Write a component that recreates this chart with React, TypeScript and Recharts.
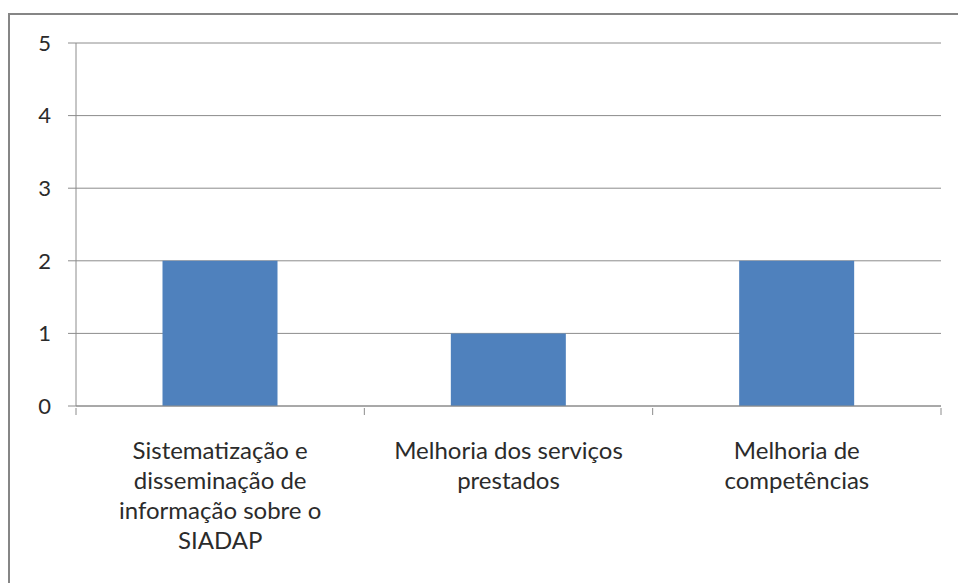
import { BarChart, Bar, XAxis, YAxis, CartesianGrid } from 'recharts';

const categories = [
  'Sistematização e\ndisseminação de\ninformação sobre o\nSIADAP',
  'Melhoria dos serviços\nprestados',
  'Melhoria de\ncompetências',
];
const values = [2, 1, 2];
const yTicks = [0, 1, 2, 3, 4, 5];

const data = categories.map((name, i) => ({ name, value: values[i] }));

const FONT = 'Lato, "Open Sans", sans-serif';
const GRID = '#8c8c8c';
const TEXT = '#2b2b2b';

function CategoryTick(props: any) {
  const { x, y, payload, width } = props;
  const band = width / categories.length;
  const lines = String(payload.value).split('\n');
  const left = x - band / 2;
  const isLast = payload.index === categories.length - 1;
  return (
    <g>
      <line x1={left} y1={y - 6} x2={left} y2={y + 1} stroke={GRID} />
      {isLast && <line x1={left + band} y1={y - 6} x2={left + band} y2={y + 1} stroke={GRID} />}
      <text x={x} y={y + 45} textAnchor="middle" fill={TEXT} fontSize={24} fontFamily={FONT}>
        {lines.map((l, i) => (
          <tspan key={i} x={x} dy={i === 0 ? 0 : 30}>
            {l}
          </tspan>
        ))}
      </text>
    </g>
  );
}

export default function App() {
  return (
    <div
      style={{
        position: 'fixed',
        left: 8,
        top: 13,
        width: 1000,
        height: 1000,
        border: '2px solid #868686',
        background: '#fff',
      }}
    >
      <BarChart
        width={950}
        height={570}
        data={data}
        margin={{ top: 28, right: 19, bottom: 0, left: 0 }}
        barCategoryGap="30%"
      >
        <CartesianGrid vertical={false} stroke={GRID} />
        <XAxis
          dataKey="name"
          tickLine={false}
          axisLine={{ stroke: GRID }}
          height={179}
          interval={0}
          tick={<CategoryTick />}
        />
        <YAxis
          domain={[0, 5]}
          ticks={yTicks}
          width={66}
          tickSize={8}
          tickMargin={17}
          axisLine={{ stroke: GRID }}
          tickLine={{ stroke: GRID }}
          tick={{ fill: TEXT, fontSize: 22, fontFamily: FONT }}
        />
        <Bar dataKey="value" fill="#4F81BD" isAnimationActive={false} />
      </BarChart>
    </div>
  );
}
